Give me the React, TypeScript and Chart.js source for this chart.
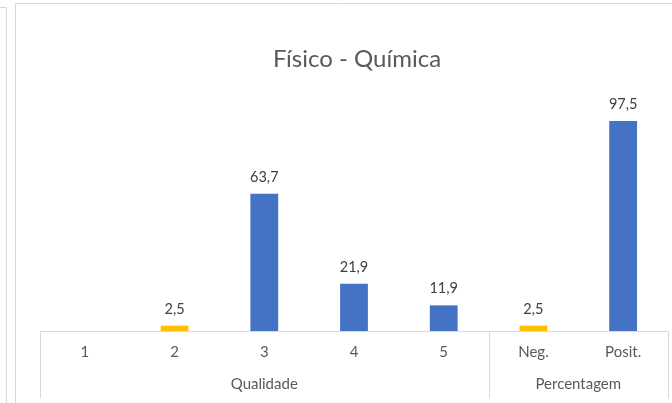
import React, { useEffect, useRef } from "react";
import { Chart, registerables } from "chart.js";

Chart.register(...registerables);

const categories = ["1", "2", "3", "4", "5", "Neg.", "Posit."];
const groupLabels = ["Qualidade", "Percentagem"];
const groupSizes = [5, 2];
const highlightValues = [null, 2.5, null, null, null, 2.5, null];
const mainValues = [null, null, 63.7, 21.9, 11.9, null, 97.5];
const chartTitle = "Físico - Química";

const FONT = "Lato, 'Open Sans', sans-serif";
const TEXT = "#595959";
const LINE = "#D9D9D9";

const fmt = (v: number) => v.toFixed(1).replace(".", ",");

const framePlugin = {
  id: "frame",
  beforeDraw(chart: any) {
    const ctx = chart.ctx;
    ctx.save();
    ctx.fillStyle = "#ffffff";
    ctx.fillRect(0, 0, chart.width, chart.height);
    ctx.strokeStyle = LINE;
    ctx.lineWidth = 1;
    ctx.beginPath();
    ctx.moveTo(0, 7.5);
    ctx.lineTo(6.5, 7.5);
    ctx.lineTo(6.5, chart.height);
    ctx.moveTo(15.5, chart.height);
    ctx.lineTo(15.5, 3.5);
    ctx.lineTo(chart.width, 3.5);
    ctx.stroke();
    ctx.fillStyle = TEXT;
    ctx.font = `24px ${FONT}`;
    ctx.textAlign = "center";
    ctx.textBaseline = "alphabetic";
    ctx.fillText(chartTitle, 357, 67);
    ctx.restore();
  },
};

const axisPlugin = {
  id: "multiAxis",
  afterDraw(chart: any) {
    const ctx = chart.ctx;
    const xs = chart.scales.x;
    const area = chart.chartArea;
    const n = categories.length;
    const w = (area.right - area.left) / n;
    const edge = (i: number) => (i < n ? xs.getPixelForValue(i) - w / 2 : xs.getPixelForValue(n - 1) + w / 2);
    ctx.save();
    ctx.strokeStyle = LINE;
    ctx.lineWidth = 1;
    ctx.beginPath();
    const y0 = Math.round(area.bottom) + 0.5;
    ctx.moveTo(edge(0), y0);
    ctx.lineTo(edge(n), y0);
    let idx = 0;
    const bounds = [0];
    groupSizes.forEach((s) => {
      idx += s;
      bounds.push(idx);
    });
    bounds.forEach((b) => {
      const x = Math.round(edge(b)) + 0.5;
      ctx.moveTo(x, y0);
      ctx.lineTo(x, y0 + 67);
    });
    ctx.stroke();
    ctx.fillStyle = TEXT;
    ctx.font = `15px ${FONT}`;
    ctx.textAlign = "center";
    ctx.textBaseline = "middle";
    categories.forEach((c, i) => {
      ctx.fillText(c, xs.getPixelForValue(i), y0 + 21);
    });
    let start = 0;
    groupLabels.forEach((g, gi) => {
      const end = start + groupSizes[gi];
      const cx = (edge(start) + edge(end)) / 2;
      ctx.fillText(g, cx, y0 + 53);
      start = end;
    });
    ctx.restore();
  },
};

const labelPlugin = {
  id: "valueLabels",
  afterDatasetsDraw(chart: any) {
    const ctx = chart.ctx;
    ctx.save();
    ctx.fillStyle = "#404040";
    ctx.font = `14.5px ${FONT}`;
    ctx.textAlign = "center";
    ctx.textBaseline = "alphabetic";
    chart.data.datasets.forEach((ds: any, di: number) => {
      const meta = chart.getDatasetMeta(di);
      meta.data.forEach((el: any, i: number) => {
        const v = ds.data[i];
        if (v === null || v === undefined) return;
        ctx.fillText(fmt(v), el.x, el.y - 12);
      });
    });
    ctx.restore();
  },
};

export default function App() {
  const ref = useRef<HTMLCanvasElement>(null);
  useEffect(() => {
    if (!ref.current) return;
    const chart = new Chart(ref.current, {
      type: "bar",
      data: {
        labels: categories,
        datasets: [
          {
            label: "Destaque",
            data: highlightValues,
            backgroundColor: "#FFC000",
            categoryPercentage: 1,
            barPercentage: 0.31,
          },
          {
            label: "Valores",
            data: mainValues,
            backgroundColor: "#4472C4",
            categoryPercentage: 1,
            barPercentage: 0.31,
          },
        ],
      },
      options: {
        animation: false,
        responsive: false,
        layout: { padding: { left: 40, right: 4, top: 94, bottom: 72 } },
        plugins: {
          legend: { display: false },
          tooltip: { enabled: false },
          title: { display: false },
        },
        scales: {
          x: { display: false, stacked: true },
          y: { display: false, stacked: true, min: 0, max: 110 },
        },
      },
      plugins: [framePlugin, axisPlugin, labelPlugin],
    });
    return () => chart.destroy();
  }, []);
  return (
    <div style={{ position: "fixed", left: 0, top: 0, width: 672, height: 403, background: "#fff" }}>
      <canvas ref={ref} width={672} height={403} style={{ width: 672, height: 403 }} />
    </div>
  );
}
